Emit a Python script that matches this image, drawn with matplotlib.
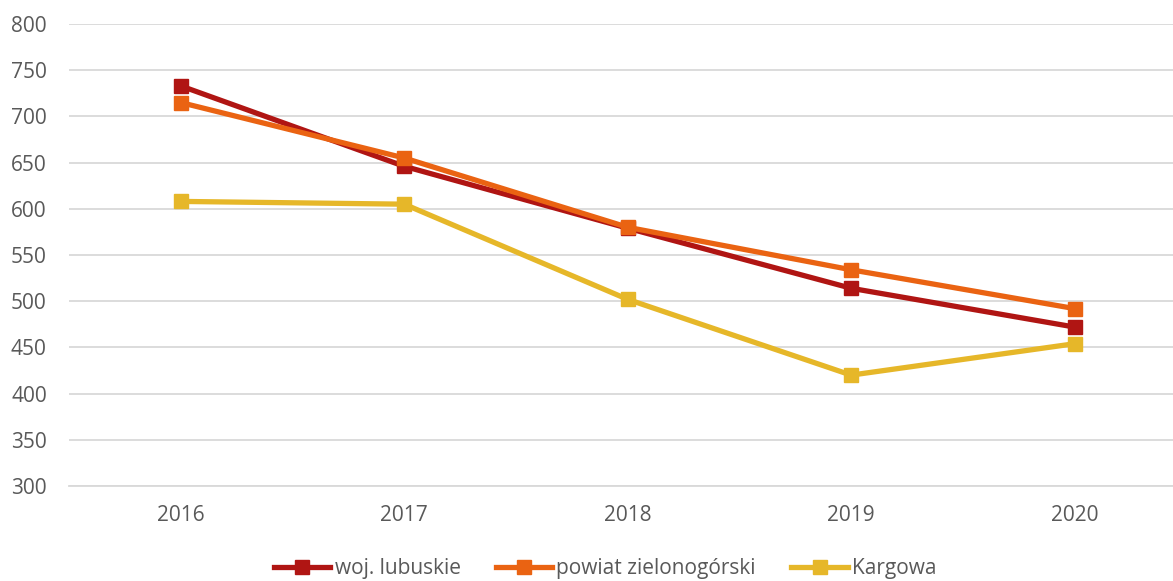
import matplotlib.pyplot as plt

plt.rcParams['font.family'] = ['Open Sans', 'DejaVu Sans']

years = ['2016', '2017', '2018', '2019', '2020']
woj_lubuskie = [733, 646, 579, 514, 472]
powiat_zielonogorski = [715, 655, 580, 534, 492]
kargowa = [608, 605, 502, 420, 454]

series = [
    ('woj. lubuskie', woj_lubuskie, '#B01513'),
    ('powiat zielonogórski', powiat_zielonogorski, '#EA6312'),
    ('Kargowa', kargowa, '#E6B729'),
]

fig = plt.figure(figsize=(11.73, 5.81), dpi=100)
ax = fig.add_axes([0.0588, 0.1635, 0.9412, 0.7952])

x = range(len(years))
for name, vals, col in series:
    ax.plot(x, vals, color=col, lw=3.8, marker='s', markersize=10,
            label=name, solid_joinstyle='round')

ax.set_ylim(300, 800)
ax.set_yticks(range(300, 801, 50))
ax.set_xlim(-0.5, 4.44)
ax.set_xticks(list(x))
ax.set_xticklabels(years)
ax.grid(axis='y', color='#D9D9D9', lw=1.3)
ax.set_axisbelow(True)
for s in ax.spines.values():
    s.set_visible(False)
ax.spines['bottom'].set_visible(True)
ax.spines['bottom'].set_color('#D9D9D9')
ax.spines['bottom'].set_linewidth(1.3)
ax.tick_params(length=0, labelsize=15, labelcolor='#595959')
ax.tick_params(axis='x', pad=14)
ax.tick_params(axis='y', pad=16)

fig.legend(loc='center', bbox_to_anchor=(0.516, 0.021), ncol=3,
           frameon=False, fontsize=15, labelcolor='#595959',
           handlelength=2.7, handletextpad=0.2, columnspacing=1.7)

fig.savefig('out.png', dpi=100)
